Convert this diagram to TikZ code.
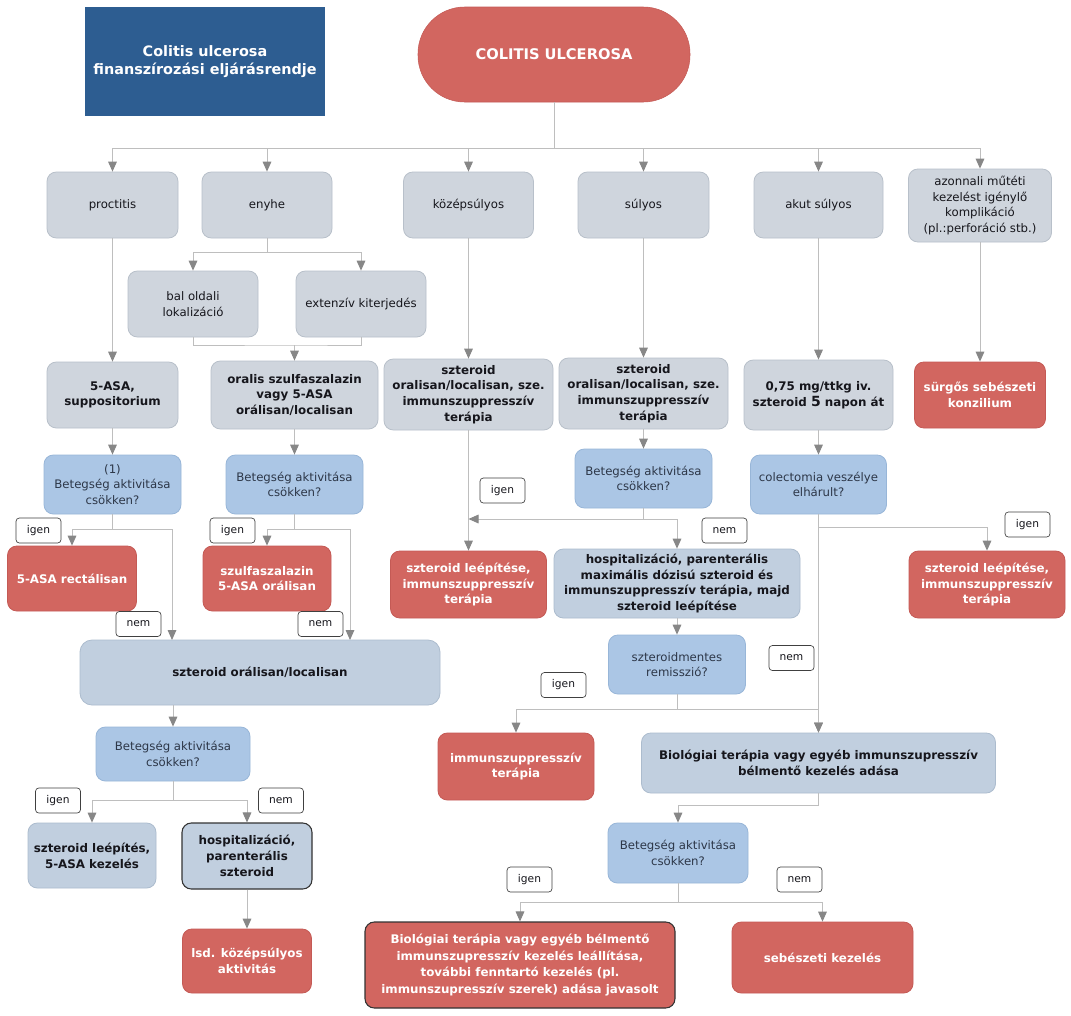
\documentclass[tikz,border=0pt]{standalone}
\usepackage{fontspec}
\setmainfont{DejaVu Sans}
\usetikzlibrary{arrows.meta}
\definecolor{ctitle}{RGB}{45,93,145}
\definecolor{cred}{RGB}{210,102,96}
\definecolor{credb}{RGB}{196,90,85}
\definecolor{cgrey}{RGB}{207,213,221}
\definecolor{cgreyb}{RGB}{184,192,202}
\definecolor{cques}{RGB}{171,198,229}
\definecolor{cquesb}{RGB}{152,182,216}
\definecolor{csteel}{RGB}{193,207,223}
\definecolor{csteelb}{RGB}{172,188,206}
\definecolor{ctext}{RGB}{22,22,28}
\definecolor{cqtext}{RGB}{45,55,72}
\definecolor{clinegray}{RGB}{190,190,190}
\definecolor{carrgray}{RGB}{135,135,135}
\tikzset{
  sz/.style 2 args={minimum width=#1*0.75pt, minimum height=#2*0.75pt},
  base/.style={rounded corners=7pt, align=center, inner sep=1pt, line width=0.6pt},
  gbox/.style={base, fill=cgrey, draw=cgreyb, text=ctext, font=\fontsize{8.8}{11.7}\selectfont},
  gboxb/.style={base, fill=cgrey, draw=cgreyb, text=ctext, font=\bfseries\fontsize{8.9}{11.7}\selectfont},
  qbox/.style={base, fill=cques, draw=cquesb, text=cqtext, font=\fontsize{8.8}{11.7}\selectfont},
  sbox/.style={base, fill=csteel, draw=csteelb, text=ctext, font=\bfseries\fontsize{8.9}{11.9}\selectfont},
  rbox/.style={base, fill=cred, draw=credb, text=white, font=\bfseries\fontsize{8.9}{11.9}\selectfont},
  darkb/.style={draw=black!80, line width=0.8pt},
  lab/.style={draw=black!75, fill=white, rounded corners=2.5pt, line width=0.5pt, minimum width=33.75pt, minimum height=18.75pt, inner sep=0pt, text=ctext, font=\fontsize{8}{9}\selectfont},
  ln/.style={draw=clinegray, line width=0.75pt},
  arr/.style={ln, -{Triangle[length=7.5pt,width=6.5pt,color=carrgray,fill=carrgray]}},
}
\begin{document}
\begin{tikzpicture}[x=0.75pt,y=-0.75pt]
\useasboundingbox (0,0) rectangle (1071,1015);
\fill[white] (0,0) rectangle (1071,1015);

% title and root
\node[sz={240}{109}, fill=ctitle, text=white, align=center, font=\bfseries\fontsize{10.8}{13}\selectfont] (title) at (205,61.5) {Colitis ulcerosa\\finanszírozási eljárásrendje};
\node[sz={272}{95}, fill=cred, draw=credb, rounded corners=35pt, text=white, font=\bfseries\fontsize{11}{13}\selectfont] (cu) at (554,54.5) {COLITIS ULCEROSA};

% row 1
\node[gbox, sz={131}{66}] (proc) at (112.5,205) {proctitis};
\node[gbox, sz={130}{66}] (enyhe) at (267,205) {enyhe};
\node[gbox, sz={130}{66}] (kozep) at (468.5,205) {középsúlyos};
\node[gbox, sz={131}{66}] (sulyos) at (643.5,205) {súlyos};
\node[gbox, sz={129}{66}] (akut) at (818.5,205) {akut súlyos};
\node[gbox, sz={143}{73}] (azon) at (980,205.5) {azonnali műtéti\\kezelést igénylő\\komplikáció\\(pl.:perforáció stb.)};

% row 2
\node[gbox, sz={130}{66}] (bal) at (193,304) {bal oldali\\lokalizáció};
\node[gbox, sz={130}{66}] (ext) at (361,304) {extenzív kiterjedés};

% row 3
\node[gboxb, sz={131}{66}] (asa) at (112.5,395) {5-ASA,\\suppositorium};
\node[gboxb, sz={167}{68}] (oral) at (294.5,395) {oralis szulfaszalazin\\vagy 5-ASA\\orálisan/localisan};
\node[gboxb, sz={169}{71}] (szk) at (468.5,394.5) {szteroid\\oralisan/localisan, sze.\\immunszuppresszív\\terápia};
\node[gboxb, sz={169}{71}] (szs) at (643.5,393.5) {szteroid\\oralisan/localisan, sze.\\immunszuppresszív\\terápia};
\node[gboxb, sz={149}{70}] (iv) at (818.5,395) {0,75 mg/ttkg iv.\\szteroid {\fontsize{10.5}{11}\selectfont 5} napon át};
\node[rbox, sz={131}{66}] (surg) at (980,395) {sürgős sebészeti\\konzilium};

% row 4
\node[qbox, sz={137}{59}] (q1) at (112.5,484.5) {(1)\\Betegség aktivitása\\csökken?};
\node[qbox, sz={137}{59}] (q2) at (294.5,484.5) {Betegség aktivitása\\csökken?};
\node[qbox, sz={137}{59}] (q3) at (643.5,478.5) {Betegség aktivitása\\csökken?};
\node[qbox, sz={136}{59}] (col) at (818.5,484.5) {colectomia veszélye\\elhárult?};

% row 5
\node[rbox, sz={129}{65}] (rect) at (72,578.5) {5-ASA rectálisan};
\node[rbox, sz={128}{65}] (szulf) at (267,578.5) {szulfaszalazin\\5-ASA orálisan};
\node[rbox, sz={156}{67}] (midred) at (468.5,584.5) {szteroid leépítése,\\immunszuppresszív\\terápia};
\node[sbox, sz={246}{69}] (hospb) at (677,583.5) {hospitalizáció, parenterális\\maximális dózisú szteroid és\\immunszuppresszív terápia, majd\\szteroid leépítése};
\node[rbox, sz={156}{67}] (rred) at (987,584.5) {szteroid leépítése,\\immunszuppresszív\\terápia};

% row 6
\node[sbox, sz={360}{65}, rounded corners=9pt] (ster) at (260,672.5) {szteroid orálisan/localisan};
\node[qbox, sz={137}{59}] (szm) at (677,664.5) {szteroidmentes\\remisszió?};

% row 7
\node[qbox, sz={154}{54}] (q5) at (173,754) {Betegség aktivitása\\csökken?};
\node[rbox, sz={156}{67}] (immun) at (516,766.5) {immunszuppresszív\\terápia};
\node[sbox, sz={354}{60}] (bio) at (818.5,763) {Biológiai terápia vagy egyéb immunszupresszív\\bélmentő kezelés adása};

% row 8
\node[sbox, sz={128}{65}] (stl) at (92,855.5) {szteroid leépítés,\\5-ASA kezelés};
\node[sbox, darkb, sz={130}{66}] (hosps) at (247,856) {hospitalizáció,\\parenterális\\szteroid};
\node[qbox, sz={140}{60}] (q6) at (678,853) {Betegség aktivitása\\csökken?};

% row 9
\node[rbox, sz={129}{64}] (lsd) at (247,961) {lsd. középsúlyos\\aktivitás};
\node[rbox, darkb, sz={310}{86}, font=\bfseries\fontsize{8.9}{12.7}\selectfont] (biored) at (520,965) {Biológiai terápia vagy egyéb bélmentő\\immunszupresszív kezelés leállítása,\\további fenntartó kezelés (pl.\\immunszupresszív szerek) adása javasolt};
\node[rbox, sz={181}{71}] (seb) at (822.5,957.5) {sebészeti kezelés};

% labels
\node[lab] (l1) at (38.5,530.5) {igen};
\node[lab] (l2) at (232.5,530.5) {igen};
\node[lab] (l3) at (138.5,624) {nem};
\node[lab] (l4) at (320.5,624) {nem};
\node[lab] (l5) at (502.5,490.5) {igen};
\node[lab] (l6) at (724.5,530.5) {nem};
\node[lab] (l7) at (1027.5,524.5) {igen};
\node[lab] (l8) at (791.5,658) {nem};
\node[lab] (l9) at (563.5,685) {igen};
\node[lab] (l10) at (58,800.5) {igen};
\node[lab] (l11) at (281,800.5) {nem};
\node[lab] (l12) at (529.5,879.5) {igen};
\node[lab] (l13) at (799.5,879.5) {nem};

% junction coordinates
\coordinate (j0) at (554,148);
\coordinate (j1) at (267,252);
\coordinate (j2) at (294.5,345);
\coordinate (q1j) at (112.5,529);
\coordinate (q2j) at (294.5,529);
\coordinate (s1t) at (172,640);
\coordinate (s2t) at (350,640);
\coordinate (q3j) at (643.5,519);
\coordinate (smj) at (677,709);
\coordinate (cj) at (818.5,527);
\coordinate (bj) at (818.5,805);
\coordinate (q5j) at (173,800);
\coordinate (q6j) at (678,902);

% connectors
\draw[ln] (cu.south) -- (j0);
\foreach \n in {proc,enyhe,kozep,sulyos,akut,azon} \draw[arr] (j0) -| (\n.north);
\draw[ln] (enyhe.south) -- (j1);
\draw[arr] (j1) -| (bal.north);
\draw[arr] (j1) -| (ext.north);
\draw[ln] (bal.south) |- (j2) -| (ext.south);
\draw[arr] (j2) -- (oral.north);
\draw[arr] (proc.south) -- (asa.north);
\draw[arr] (kozep.south) -- (szk.north);
\draw[arr] (sulyos.south) -- (szs.north);
\draw[arr] (akut.south) -- (iv.north);
\draw[arr] (azon.south) -- (surg.north);
\draw[arr] (asa.south) -- (q1.north);
\draw[arr] (oral.south) -- (q2.north);
\draw[arr] (szs.south) -- (q3.north);
\draw[arr] (iv.south) -- (col.north);

\draw[ln] (q1.south) -- (q1j);
\draw[arr] (q1j) -| (rect.north);
\draw[arr] (q1j) -| (s1t);
\draw[ln] (q2.south) -- (q2j);
\draw[arr] (q2j) -| (szulf.north);
\draw[arr] (q2j) -| (s2t);

\draw[arr] (szk.south) -- (midred.north);
\draw[ln] (q3.south) -- (q3j);
\draw[arr] (q3j) -- (q3j -| szk.south);
\draw[arr] (q3j) -| (hospb.north);
\draw[arr] (hospb.south) -- (szm.north);
\draw[ln] (szm.south) -- (smj);
\draw[arr] (smj) -| (immun.north);
\draw[arr] (smj) -| (bio.north);
\draw[arr] (col.south) -- (bio.north);
\draw[arr] (cj) -| (rred.north);

\draw[arr] (q5.north |- ster.south) -- (q5.north);
\draw[ln] (q5.south) -- (q5j);
\draw[arr] (q5j) -| (stl.north);
\draw[arr] (q5j) -| (hosps.north);
\draw[arr] (hosps.south) -- (lsd.north);

\draw[ln] (bio.south) -- (bj);
\draw[arr] (bj) -| (q6.north);
\draw[ln] (q6.south) -- (q6j);
\draw[arr] (q6j) -| (biored.north);
\draw[arr] (q6j) -| (seb.north);
\end{tikzpicture}
\end{document}
